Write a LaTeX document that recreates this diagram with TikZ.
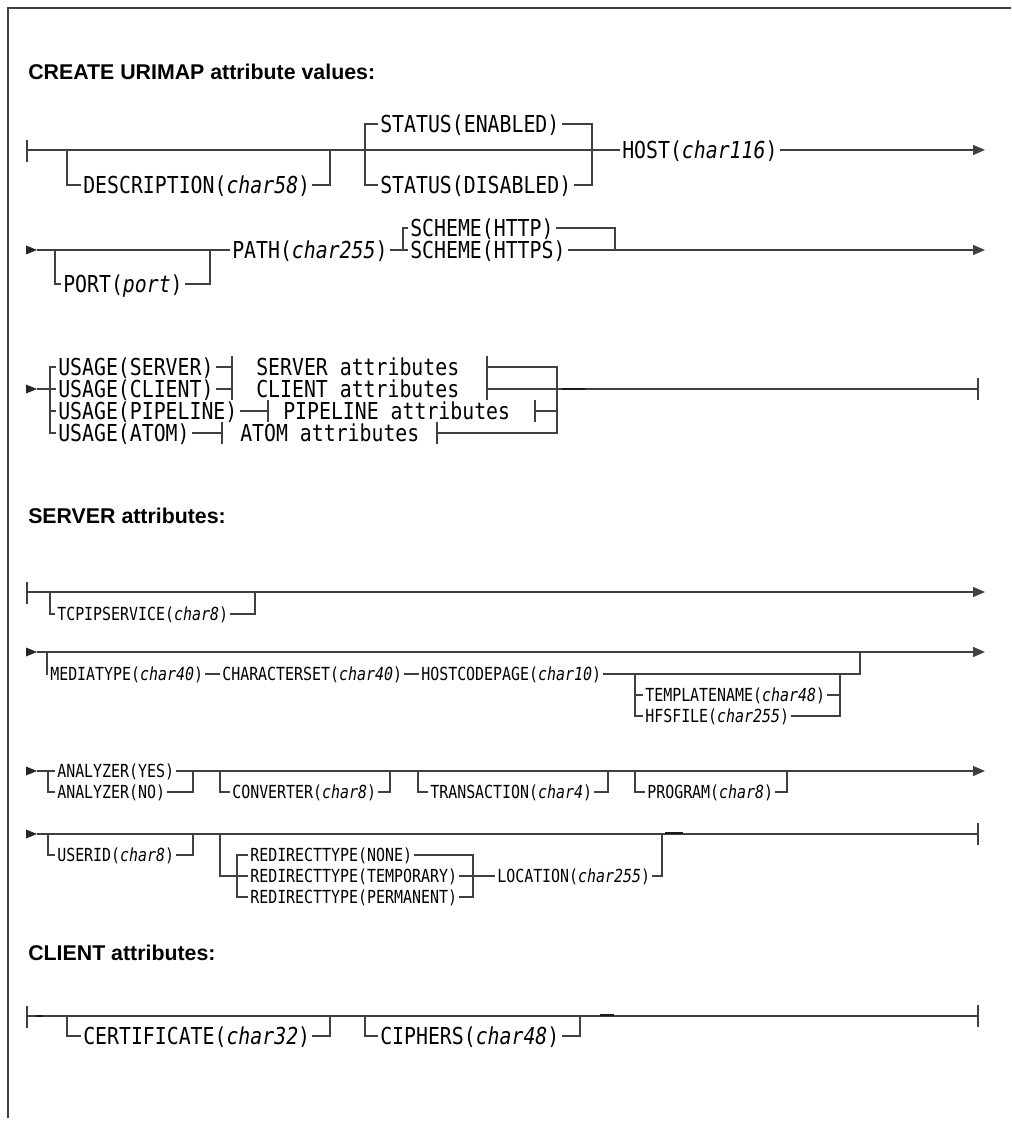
\documentclass[tikz,border=0pt]{standalone}
\usepackage{fontspec}
\setmainfont{Liberation Sans}
\newfontfamily\dmono[FakeStretch=0.85,ItalicFont={DejaVu Sans Mono Oblique}]{DejaVu Sans Mono}
\newfontfamily\dmonos[FakeStretch=0.83,ItalicFont={DejaVu Sans Mono Oblique}]{DejaVu Sans Mono}
\usetikzlibrary{arrows.meta}
\tikzset{
  ln/.style={draw=black!75, line width=1pt},
  thk/.style={draw=black!90, line width=1.4pt},
  tl/.style={anchor=west, inner sep=0pt, inner xsep=1.5pt, text height=12.7pt, text depth=0pt, font=\dmono\fontsize{17.5}{19}\selectfont},
  ts/.style={anchor=west, inner sep=0pt, inner xsep=1.5pt, text height=9.8pt, text depth=0pt, font=\dmonos\fontsize{13.5}{15}\selectfont},
  hd/.style={anchor=west, inner sep=0pt, text height=11.5pt, text depth=0pt, font=\bfseries\fontsize{16}{19}\selectfont},
  arr/.style={ln, -{Triangle[length=9pt,width=7.5pt]}},
  inarr/.style={fill=black!85, draw=none},
}
\begin{document}
\begin{tikzpicture}[x=0.75pt,y=-0.75pt]
\useasboundingbox (0,0) rectangle (1011,1126);
% frame
\draw[ln] (8,1118) -- (8,8) -- (1011,8);

% ---------------- heading 1
\node[hd] (h1) at (28,72) {CREATE URIMAP attribute values:};

% ---------------- row 1
\coordinate (s1) at (27,150);
\coordinate (e1) at (985,150);
\draw[ln] (27,140) -- (27,162);
\draw[thk] (36,150) -- (43,150);
\node[tl] (desc) at (81,185) {DESCRIPTION(\textit{char58})};
\node[tl] (sten) at (378,124) {STATUS(ENABLED)};
\node[tl] (stdi) at (378,185) {STATUS(DISABLED)};
\node[tl] (host) at (620,150) {HOST(\textit{char116})};
\draw[ln] (s1) -- (host.west);
\draw[arr] (host.east) -- (e1);
\draw[ln] (67,150) |- (desc.west);
\draw[ln] (desc.east) -| (330,150);
\draw[ln] (sten.west) -| (365,185) -- (stdi.west);
\draw[ln] (sten.east) -| (592,185) -- (stdi.east);

% ---------------- row 2
\coordinate (s2) at (37,250);
\coordinate (e2) at (985,250);
\fill[inarr] (26,245.5) -- (s2) -- (26,254.5) -- cycle;
\node[tl] (port) at (61,284) {PORT(\textit{port})};
\node[tl] (path) at (230,250) {PATH(\textit{char255})};
\node[tl] (shttp) at (408,228) {SCHEME(HTTP)};
\node[tl] (shttps) at (408,250) {SCHEME(HTTPS)};
\draw[ln] (s2) -- (path.west);
\draw[ln] (55,250) |- (port.west);
\draw[ln] (port.east) -| (210,250);
\draw[ln] (path.east) -- (shttps.west);
\draw[ln] (403,250) |- (shttp.west);
\draw[ln] (shttp.east) -| (615,250);
\draw[arr] (shttps.east) -- (e2);

% ---------------- row 3
\coordinate (s3) at (37,389);
\coordinate (e3) at (978,389);
\fill[inarr] (26,384.5) -- (s3) -- (26,393.5) -- cycle;
\node[tl] (us) at (56,367) {USAGE(SERVER)};
\node[tl] (uc) at (56,389) {USAGE(CLIENT)};
\node[tl] (up) at (56,411) {USAGE(PIPELINE)};
\node[tl] (ua) at (56,433) {USAGE(ATOM)};
\node[tl] (fs) at (254,367) {SERVER attributes};
\node[tl] (fc) at (254,389) {CLIENT attributes};
\node[tl] (fp) at (281,411) {PIPELINE attributes};
\node[tl] (fa) at (238,433) {ATOM attributes};
\draw[ln] (s3) -- (uc.west);
\draw[ln] (us.west) -| (50,433) -- (ua.west);
\draw[ln] (50,411) -- (up.west);
% left bars
\draw[ln] (us.east) -- (232,367);  \draw[ln] (232,356) -- (232,378);
\draw[ln] (uc.east) -- (232,389);  \draw[ln] (232,378) -- (232,400);
\draw[ln] (up.east) -- (268,411);  \draw[ln] (268,400) -- (268,422);
\draw[ln] (ua.east) -- (222,433);  \draw[ln] (222,422) -- (222,444);
% right bars
\draw[ln] (487,356) -- (487,378);
\draw[ln] (487,378) -- (487,400);
\draw[ln] (535,400) -- (535,422);
\draw[ln] (437,422) -- (437,444);
\draw[ln] (487,367) -| (557,433) -- (437,433);
\draw[ln] (535,411) -- (557,411);
\draw[ln] (487,389) -- (e3);
\draw[thk] (562,389) -- (585,389);
\draw[ln] (978,378) -- (978,400);

% ---------------- heading 2
\node[hd] (h2) at (28,516) {SERVER attributes:};

% ---------------- row 4
\coordinate (s4) at (27,592);
\coordinate (e4) at (985,592);
\draw[ln] (27,582) -- (27,604);
\node[ts] (tcp) at (55,614) {TCPIPSERVICE(\textit{char8})};
\draw[arr] (s4) -- (e4);
\draw[ln] (50,592) |- (tcp.west);
\draw[ln] (tcp.east) -| (255,592);

% ---------------- row 5
\coordinate (s5) at (37,652);
\coordinate (e5) at (985,652);
\fill[inarr] (26,647.5) -- (s5) -- (26,656.5) -- cycle;
\draw[arr] (s5) -- (e5);
\node[ts] (mt) at (48,674) {MEDIATYPE(\textit{char40})};
\node[ts] (cs) at (220,674) {CHARACTERSET(\textit{char40})};
\node[ts] (hcp) at (419,674) {HOSTCODEPAGE(\textit{char10})};
\node[ts] (tpl) at (643,695) {TEMPLATENAME(\textit{char48})};
\node[ts] (hfs) at (643,716) {HFSFILE(\textit{char255})};
\draw[ln] (47,652) |- (mt.west);
\draw[ln] (mt.east) -- (cs.west);
\draw[ln] (cs.east) -- (hcp.west);
\draw[ln] (hcp.east) -| (860,652);
\draw[ln] (635,674) |- (hfs.west);
\draw[ln] (635,695) -- (tpl.west);
\draw[ln] (tpl.east) -| (840,674);
\draw[ln] (hfs.east) -- (840,716) -- (840,695);

% ---------------- row 6
\coordinate (s6) at (37,771);
\coordinate (e6) at (985,771);
\fill[inarr] (26,766.5) -- (s6) -- (26,775.5) -- cycle;
\node[ts] (ay) at (55,771) {ANALYZER(YES)};
\node[ts] (an) at (55,792) {ANALYZER(NO)};
\node[ts] (conv) at (230,792) {CONVERTER(\textit{char8})};
\node[ts] (tran) at (428,792) {TRANSACTION(\textit{char4})};
\node[ts] (prog) at (645,792) {PROGRAM(\textit{char8})};
\draw[ln] (s6) -- (ay.west);
\draw[arr] (ay.east) -- (e6);
\draw[ln] (48,771) |- (an.west);
\draw[ln] (an.east) -| (193,771);
\draw[ln] (220,771) |- (conv.west);
\draw[ln] (conv.east) -| (390,771);
\draw[ln] (418,771) |- (tran.west);
\draw[ln] (tran.east) -| (608,771);
\draw[ln] (635,771) |- (prog.west);
\draw[ln] (prog.east) -| (787,771);

% ---------------- row 7
\coordinate (s7) at (37,834);
\coordinate (e7) at (978,834);
\fill[inarr] (26,829.5) -- (s7) -- (26,838.5) -- cycle;
\draw[ln] (s7) -- (e7);
\draw[ln] (978,823) -- (978,845);
\draw[thk] (665,833) -- (683,833);
\node[ts] (uid) at (55,855) {USERID(\textit{char8})};
\node[ts] (rn) at (248,855) {REDIRECTTYPE(NONE)};
\node[ts] (rt) at (248,876) {REDIRECTTYPE(TEMPORARY)};
\node[ts] (rp) at (248,897) {REDIRECTTYPE(PERMANENT)};
\node[ts] (loc) at (495,876) {LOCATION(\textit{char255})};
\draw[ln] (48,834) |- (uid.west);
\draw[ln] (uid.east) -| (193,834);
\draw[ln] (220,834) |- (rt.west);
\draw[ln] (rn.west) -| (237,897) -- (rp.west);
\draw[ln] (rn.east) -| (473,897) -- (rp.east);
\draw[ln] (rt.east) -- (loc.west);
\draw[ln] (loc.east) -| (662,834);

% ---------------- heading 3
\node[hd] (h3) at (28,953) {CLIENT attributes:};

% ---------------- row 8
\coordinate (s8) at (27,1016);
\coordinate (e8) at (978,1016);
\draw[ln] (27,1006) -- (27,1028);
\draw[ln] (s8) -- (e8);
\draw[ln] (978,1005) -- (978,1027);
\draw[thk] (36,1016) -- (43,1016);
\draw[thk] (600,1015) -- (614,1015);
\node[tl] (cert) at (81,1036) {CERTIFICATE(\textit{char32})};
\node[tl] (ciph) at (378,1036) {CIPHERS(\textit{char48})};
\draw[ln] (67,1016) |- (cert.west);
\draw[ln] (cert.east) -| (330,1016);
\draw[ln] (365,1016) |- (ciph.west);
\draw[ln] (ciph.east) -| (580,1016);
\end{tikzpicture}
\end{document}
